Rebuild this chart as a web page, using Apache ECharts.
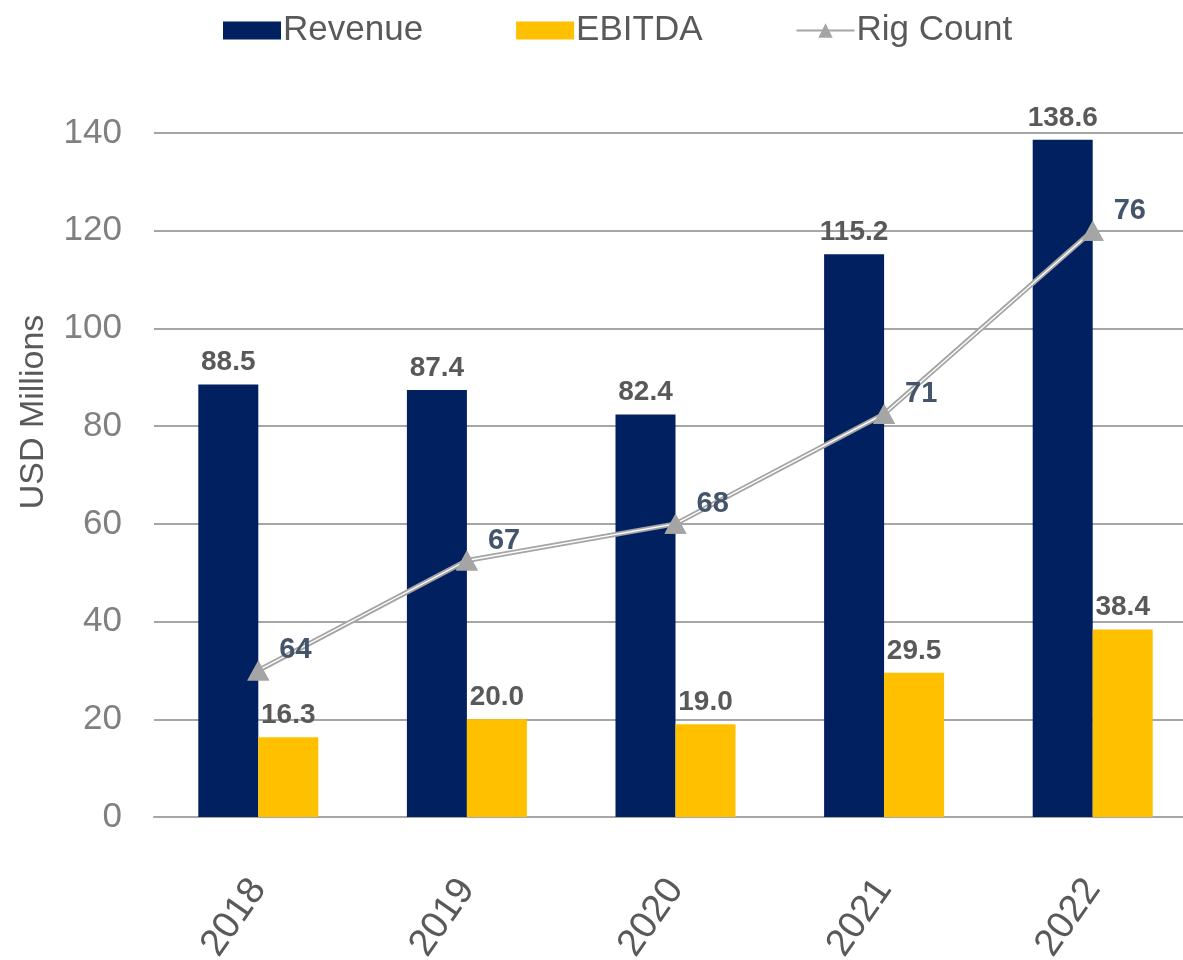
<!DOCTYPE html>
<html lang="en">
<head>
  <meta charset="UTF-8">
  <title>Revenue, EBITDA and Rig Count</title>
  <script src="https://cdn.jsdelivr.net/npm/echarts@6/dist/echarts.min.js"></script>
  <style>
    html, body { margin: 0; padding: 0; background: #fff; }
  </style>
</head>
<body>
<div id="main" style="width: 1183px;height:960px;"></div>
<script type="text/javascript">
  // 数据
  var years = ['2018', '2019', '2020', '2021', '2022'];
  var revenue = [88.5, 87.4, 82.4, 115.2, 138.6];
  var ebitda = [16.3, 20.0, 19.0, 29.5, 38.4];
  var rigCount = [64, 67, 68, 71, 76];

  var font = '"Liberation Sans", Arial, sans-serif';
  var myChart = echarts.init(document.getElementById('main'));

  var barLabel = {
    show: true,
    position: 'top',
    distance: 8,
    color: '#595959',
    fontWeight: 'bold',
    fontSize: 28,
    fontFamily: font,
    formatter: function (p) { return p.value.toFixed(1); }
  };

  myChart.setOption({
    animation: false,
    legend: {
      data: [
        { name: 'Revenue', icon: 'rect' },
        { name: 'EBITDA', icon: 'rect' },
        'Rig Count'
      ],
      left: 218,
      top: 8,
      itemWidth: 58,
      itemHeight: 18,
      itemGap: 93,
      textStyle: { color: '#595959', fontSize: 35, fontFamily: font, padding: [0, 0, 0, -3] }
    },
    // y 轴标题（位置比网格中心略高）
    graphic: [{
      type: 'text',
      x: 34,
      y: 412,
      rotation: Math.PI / 2,
      style: {
        text: 'USD Millions',
        fill: '#595959',
        fontSize: 34,
        fontFamily: font,
        textAlign: 'center',
        textVerticalAlign: 'middle'
      }
    }],
    grid: { left: 154, width: 1043, top: 133, bottom: 143, outerBoundsMode: 'none' },
    xAxis: {
      type: 'category',
      data: years,
      axisLine: { lineStyle: { color: '#a6a6a6', width: 2 } },
      axisTick: { show: false },
      axisLabel: {
        rotate: 55,
        margin: 66,
        color: '#595959',
        fontSize: 38,
        fontFamily: font
      }
    },
    yAxis: [{
      type: 'value',
      min: 0,
      max: 140,
      interval: 20,
      axisLine: { show: false },
      axisTick: { show: false },
      axisLabel: { margin: 32, color: '#808080', fontSize: 35, fontFamily: font },
      splitLine: { lineStyle: { color: '#a6a6a6', width: 2 } }
    }, {
      // 隐藏的副轴，用于 Rig Count
      type: 'value',
      min: 60,
      max: 78.667,
      show: false,
      splitLine: { show: false }
    }],
    series: [{
      name: 'Revenue',
      type: 'bar',
      data: revenue,
      barWidth: 60,
      barGap: '0%',
      itemStyle: { color: '#002060' },
      label: barLabel
    }, {
      name: 'EBITDA',
      type: 'bar',
      data: ebitda,
      barWidth: 60,
      barGap: '0%',
      itemStyle: { color: '#ffc000' },
      label: barLabel
    }, {
      name: 'Rig Count',
      type: 'line',
      yAxisIndex: 1,
      data: rigCount,
      symbol: 'triangle',
      symbolSize: [22, 20],
      itemStyle: { color: '#a5a5a5' },
      lineStyle: { color: '#a5a5a5', width: 5 },
      z: 3
    }, {
      // 线中间的白色细线
      name: 'Rig Count inner',
      type: 'line',
      yAxisIndex: 1,
      data: rigCount,
      symbol: 'none',
      silent: true,
      lineStyle: { color: '#ffffff', width: 1.3 },
      z: 4
    }, {
      name: 'Rig Count marks',
      type: 'line',
      yAxisIndex: 1,
      data: rigCount,
      symbol: 'triangle',
      symbolSize: [22, 20],
      silent: true,
      itemStyle: { color: '#a5a5a5' },
      lineStyle: { width: 0, opacity: 0 },
      label: {
        show: true,
        position: 'right',
        distance: 10,
        offset: [0, -20],
        color: '#44546a',
        fontWeight: 'bold',
        fontSize: 29,
        fontFamily: font
      },
      z: 5
    }]
  });
</script>
</body>
</html>
